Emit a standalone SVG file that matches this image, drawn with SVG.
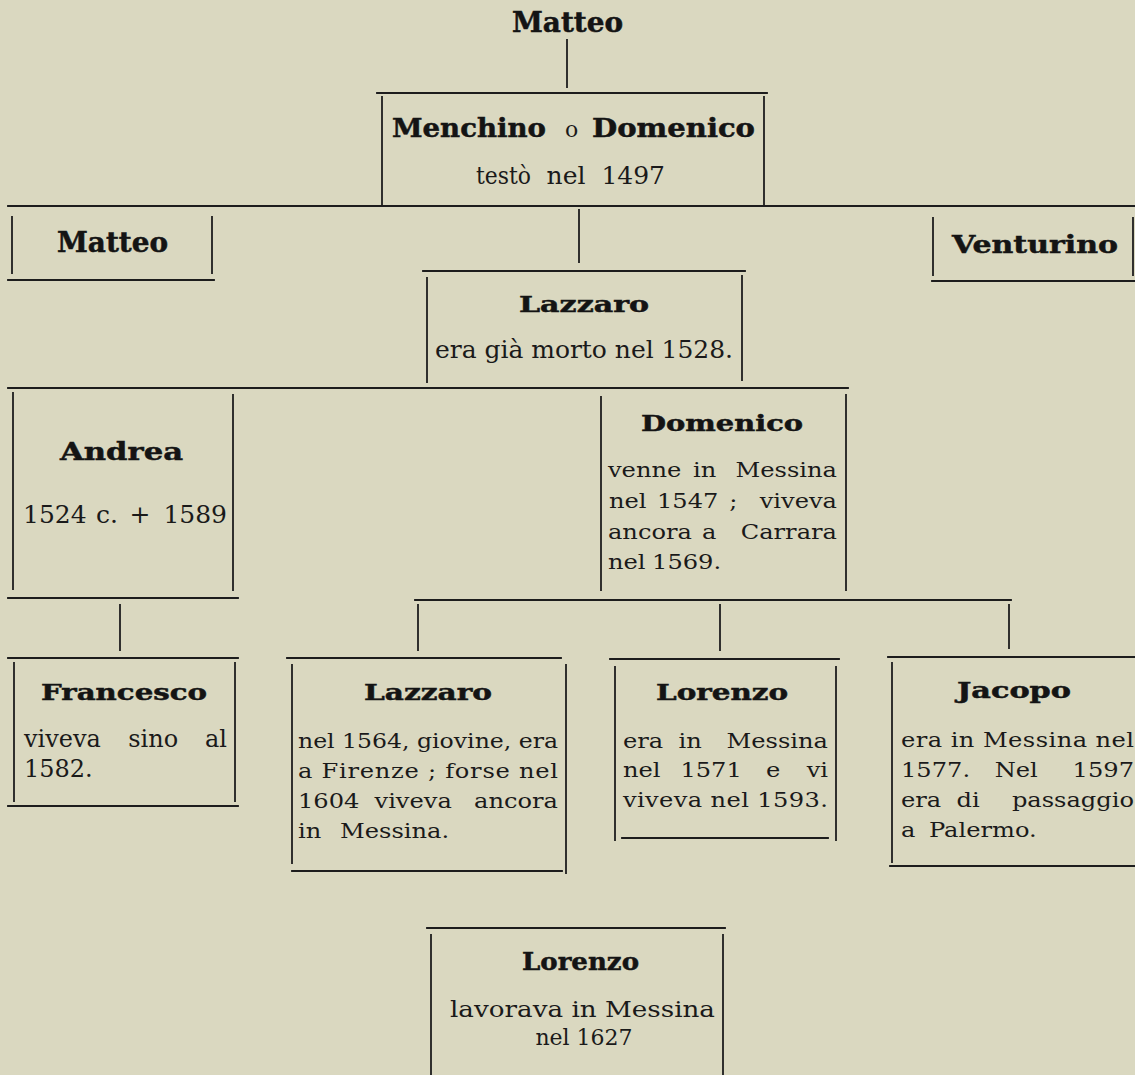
<svg xmlns="http://www.w3.org/2000/svg" width="1135" height="1075" viewBox="0 0 1135 1075">
<style>
.ln{stroke:#1d1d1d;stroke-width:1.8;fill:none;stroke-linecap:square}
.nm{font-family:"DejaVu Serif",serif;font-weight:bold;fill:#141414;stroke:#141414;stroke-width:0.5}
.tx{font-family:"DejaVu Serif",serif;font-weight:normal;fill:#1a1a1a;stroke:none}
.s21{font-size:21px}
.m{text-anchor:middle}
.e{text-anchor:end}
</style>
<rect x="0" y="0" width="1135" height="1075" fill="#dad8c0"/>

<g id="connectors">
<line class="ln" x1="567" y1="40" x2="567" y2="87"/>
<line class="ln" x1="8" y1="206" x2="1135" y2="206"/>
<line class="ln" x1="579" y1="210" x2="579" y2="262"/>
<line class="ln" x1="8" y1="388" x2="848" y2="388"/>
<line class="ln" x1="120" y1="605" x2="120" y2="650"/>
<line class="ln" x1="415" y1="600" x2="1011" y2="600"/>
<line class="ln" x1="418" y1="605" x2="418" y2="650"/>
<line class="ln" x1="720" y1="605" x2="720" y2="650"/>
<line class="ln" x1="1009" y1="605" x2="1009" y2="648"/>
</g>

<g id="matteo-top">
<text class="nm" x="512" y="32" font-size="27" textLength="111" lengthAdjust="spacingAndGlyphs">Matteo</text>
</g>

<g id="menchino">
<line class="ln" x1="377" y1="93" x2="767" y2="93"/>
<line class="ln" x1="382" y1="97" x2="382" y2="205"/>
<line class="ln" x1="764" y1="97" x2="764" y2="205"/>
<text class="nm" y="137" font-size="26"><tspan x="392" textLength="154" lengthAdjust="spacingAndGlyphs">Menchino</tspan> <tspan class="tx" x="565" font-size="22">o</tspan> <tspan x="592" textLength="163" lengthAdjust="spacingAndGlyphs">Domenico</tspan></text>
<text class="tx" y="184" font-size="25"><tspan x="476" textLength="55" lengthAdjust="spacingAndGlyphs">testò</tspan> <tspan class="m" x="570">nel</tspan> <tspan class="e" x="665">1497</tspan></text>
</g>

<g id="matteo">
<line class="ln" x1="12" y1="217" x2="12" y2="273"/>
<line class="ln" x1="212" y1="217" x2="212" y2="273"/>
<line class="ln" x1="8" y1="280" x2="214" y2="280"/>
<text class="nm" x="57" y="252" font-size="27" textLength="111" lengthAdjust="spacingAndGlyphs">Matteo</text>
</g>

<g id="venturino">
<line class="ln" x1="933" y1="218" x2="933" y2="275"/>
<line class="ln" x1="1133" y1="218" x2="1133" y2="275"/>
<line class="ln" x1="932" y1="281" x2="1135" y2="281"/>
<text class="nm" x="952" y="253" font-size="25" textLength="166" lengthAdjust="spacingAndGlyphs">Venturino</text>
</g>

<g id="lazzaro-1">
<line class="ln" x1="423" y1="271" x2="745" y2="271"/>
<line class="ln" x1="427" y1="278" x2="427" y2="382"/>
<line class="ln" x1="742" y1="276" x2="742" y2="380"/>
<text class="nm" x="519" y="312" font-size="23" textLength="130" lengthAdjust="spacingAndGlyphs">Lazzaro</text>
<text class="tx" x="435" y="358" font-size="25" textLength="298" lengthAdjust="spacing">era già morto nel 1528.</text>
</g>

<g id="andrea">
<line class="ln" x1="13" y1="393" x2="13" y2="589"/>
<line class="ln" x1="233" y1="395" x2="233" y2="590"/>
<line class="ln" x1="8" y1="598" x2="238" y2="598"/>
<text class="nm" x="60" y="460" font-size="25" textLength="123" lengthAdjust="spacingAndGlyphs">Andrea</text>
<text class="tx" y="523" font-size="25"><tspan x="23">1524</tspan> <tspan class="m" x="111">c.</tspan> <tspan class="m" x="144">+</tspan> <tspan class="e" x="227">1589</tspan></text>
</g>

<g id="domenico">
<line class="ln" x1="601" y1="397" x2="601" y2="590"/>
<line class="ln" x1="846" y1="395" x2="846" y2="590"/>
<text class="nm" x="641" y="431" font-size="23" textLength="162" lengthAdjust="spacingAndGlyphs">Domenico</text>
<g transform="scale(1.15 1)">
<text class="tx s21" y="477"><tspan x="528.7">venne</tspan> <tspan class="m" x="616.1">in</tspan> <tspan class="e" x="727.8">Messina</tspan></text>
<text class="tx s21" y="508"><tspan x="529.6">nel</tspan> <tspan x="571.3">1547</tspan> <tspan class="m" x="640.9">;</tspan> <tspan class="e" x="727.8">viveva</tspan></text>
<text class="tx s21" y="539"><tspan x="528.7">ancora</tspan> <tspan class="m" x="620.0">a</tspan> <tspan class="e" x="727.8">Carrara</tspan></text>
<text class="tx s21" y="569"><tspan x="528.7">nel</tspan> <tspan x="567.0">1569.</tspan></text>
</g>
</g>

<g id="francesco">
<line class="ln" x1="8" y1="658" x2="238" y2="658"/>
<line class="ln" x1="14" y1="663" x2="14" y2="801"/>
<line class="ln" x1="235" y1="663" x2="235" y2="801"/>
<line class="ln" x1="8" y1="806" x2="238" y2="806"/>
<text class="nm" x="41" y="700" font-size="23" textLength="166" lengthAdjust="spacingAndGlyphs">Francesco</text>
<text class="tx" y="747" font-size="24"><tspan x="24">viveva</tspan> <tspan class="m" x="157">sino</tspan> <tspan class="e" x="227">al</tspan></text>
<text class="tx" x="24" y="777" font-size="24">1582.</text>
</g>

<g id="lazzaro-2">
<line class="ln" x1="287" y1="658" x2="561" y2="658"/>
<line class="ln" x1="292" y1="665" x2="292" y2="863"/>
<line class="ln" x1="566" y1="665" x2="566" y2="873"/>
<line class="ln" x1="292" y1="871" x2="562" y2="871"/>
<text class="nm" x="364" y="700" font-size="23" textLength="128" lengthAdjust="spacingAndGlyphs">Lazzaro</text>
<g transform="scale(1.15 1)">
<text class="tx s21" x="259.1" y="748" textLength="226.1" lengthAdjust="spacingAndGlyphs">nel 1564, giovine, era</text>
<text class="tx s21" x="259.1" y="778" textLength="226.1" lengthAdjust="spacing">a Firenze ; forse nel</text>
<text class="tx s21" y="808"><tspan x="259.1">1604</tspan> <tspan class="m" x="362.6">viveva</tspan> <tspan class="e" x="485.2">ancora</tspan></text>
<text class="tx s21" y="838"><tspan x="259.1">in</tspan> <tspan x="295.7">Messina.</tspan></text>
</g>
</g>

<g id="lorenzo-1">
<line class="ln" x1="610" y1="659" x2="839" y2="659"/>
<line class="ln" x1="615" y1="667" x2="615" y2="840"/>
<line class="ln" x1="836" y1="667" x2="836" y2="840"/>
<line class="ln" x1="622" y1="838" x2="828" y2="838"/>
<text class="nm" x="656" y="700" font-size="22" textLength="132" lengthAdjust="spacingAndGlyphs">Lorenzo</text>
<g transform="scale(1.15 1)">
<text class="tx s21" y="748"><tspan x="541.7">era</tspan> <tspan class="m" x="603.5">in</tspan> <tspan class="e" x="720">Messina</tspan></text>
<text class="tx s21" y="777"><tspan x="541.7">nel</tspan> <tspan class="m" x="621.7">1571</tspan> <tspan class="m" x="675.7">e</tspan> <tspan class="e" x="720">vi</tspan></text>
<text class="tx s21" x="541.7" y="807" textLength="178.3" lengthAdjust="spacing">viveva nel 1593.</text>
</g>
</g>

<g id="jacopo">
<line class="ln" x1="888" y1="657" x2="1135" y2="657"/>
<line class="ln" x1="892" y1="663" x2="892" y2="862"/>
<line class="ln" x1="890" y1="866" x2="1135" y2="866"/>
<text class="nm" x="957" y="698" font-size="22" textLength="114" lengthAdjust="spacingAndGlyphs">Jacopo</text>
<g transform="scale(1.15 1)">
<text class="tx s21" x="783.5" y="747" textLength="202.6" lengthAdjust="spacing">era in Messina nel</text>
<text class="tx s21" y="777"><tspan x="783.5">1577.</tspan> <tspan class="m" x="887.0">Nel</tspan> <tspan class="e" x="986.1">1597</tspan></text>
<text class="tx s21" y="807"><tspan x="783.5">era</tspan> <tspan class="m" x="845.2">di</tspan> <tspan class="e" x="986.1">passaggio</tspan></text>
<text class="tx s21" y="837"><tspan x="783.5">a</tspan> <tspan x="807.8">Palermo.</tspan></text>
</g>
</g>

<g id="lorenzo-2">
<line class="ln" x1="427" y1="928" x2="725" y2="928"/>
<line class="ln" x1="431" y1="935" x2="431" y2="1075"/>
<line class="ln" x1="723" y1="935" x2="723" y2="1075"/>
<text class="nm" x="522" y="970" font-size="25" textLength="117" lengthAdjust="spacingAndGlyphs">Lorenzo</text>
<text class="tx" x="450" y="1017" font-size="22" textLength="265" lengthAdjust="spacingAndGlyphs">lavorava in Messina</text>
<text class="tx m" x="584" y="1045" font-size="22">nel 1627</text>
</g>
</svg>
